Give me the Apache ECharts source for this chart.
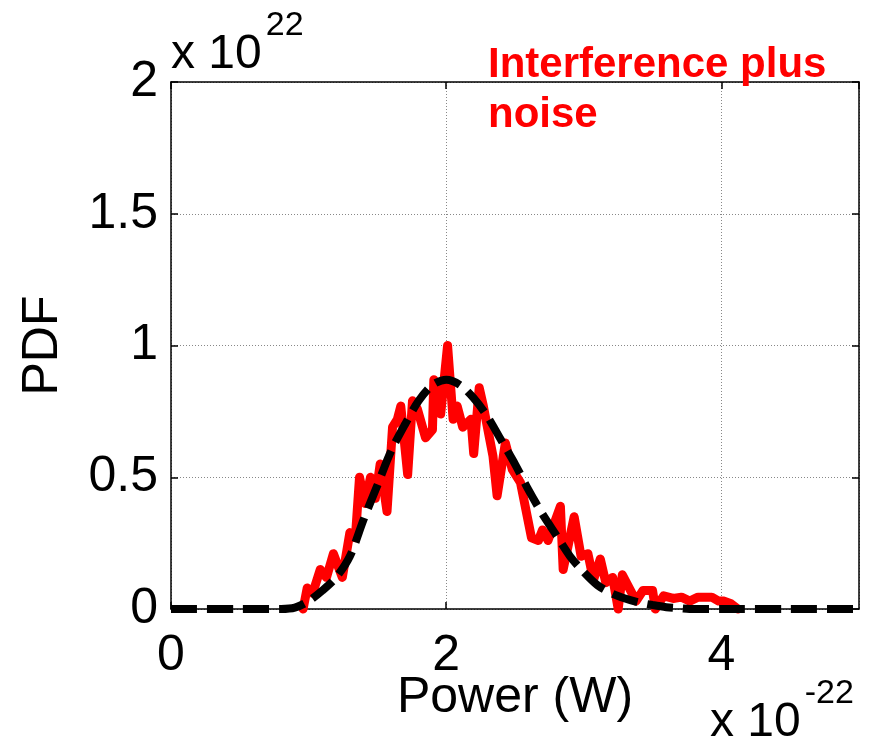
<!DOCTYPE html>
<html>
<head>
<meta charset="utf-8">
<script src="https://cdn.jsdelivr.net/npm/echarts@6/dist/echarts.min.js"></script>
<style>
html,body{margin:0;padding:0;background:#fff;}
#chart{width:875px;height:744px;}
</style>
</head>
<body>
<div id="chart"></div>
<script>
// Power (x 1e-22 W) and PDF (x 1e22) for the black dashed fitted curve
var fitPower = [0, 0.5, 0.8, 0.9, 1.0, 1.1, 1.2, 1.3, 1.4, 1.5, 1.6, 1.7, 1.8, 1.9, 2.0, 2.1, 2.2, 2.3, 2.4, 2.5, 2.6, 2.7, 2.8, 2.9, 3.0, 3.1, 3.2, 3.3, 3.4, 3.5, 3.6, 3.7, 3.8, 4.0, 4.5, 5.0];
var fitPdf   = [0, 0, 0, 0.005, 0.03, 0.07, 0.12, 0.2, 0.34, 0.47, 0.6, 0.7, 0.79, 0.85, 0.87, 0.85, 0.8, 0.73, 0.64, 0.55, 0.45, 0.36, 0.28, 0.2, 0.14, 0.09, 0.06, 0.04, 0.025, 0.015, 0.007, 0.003, 0, 0, 0, 0];

// Simulated interference plus noise (red)
var simPower = [0.96, 0.99, 1.03, 1.085, 1.13, 1.18, 1.245, 1.30, 1.34, 1.37, 1.41, 1.45, 1.485, 1.52, 1.57, 1.61, 1.645, 1.67, 1.72, 1.755, 1.79, 1.85, 1.90, 1.91, 1.96, 2.01, 2.05, 2.08, 2.12, 2.18, 2.20, 2.24, 2.27, 2.34, 2.37, 2.43, 2.48, 2.54, 2.62, 2.67, 2.70, 2.74, 2.83, 2.85, 2.93, 2.98, 3.03, 3.07, 3.12, 3.16, 3.21, 3.25, 3.28, 3.34, 3.38, 3.43, 3.50, 3.52, 3.58, 3.65, 3.71, 3.77, 3.83, 3.88, 3.93, 3.98, 4.02, 4.07, 4.12];
var simPdf   = [0, 0.08, 0.06, 0.15, 0.12, 0.21, 0.12, 0.29, 0.27, 0.50, 0.40, 0.50, 0.42, 0.55, 0.37, 0.69, 0.72, 0.77, 0.51, 0.79, 0.76, 0.65, 0.68, 0.87, 0.74, 1.0, 0.72, 0.77, 0.69, 0.72, 0.59, 0.84, 0.77, 0.58, 0.43, 0.63, 0.53, 0.48, 0.27, 0.26, 0.30, 0.26, 0.39, 0.15, 0.35, 0.20, 0.21, 0.11, 0.19, 0.10, 0.12, 0, 0.13, 0.07, 0.03, 0.07, 0.07, 0, 0.05, 0.04, 0.045, 0.03, 0.045, 0.045, 0.045, 0.03, 0.03, 0.02, 0];

var xTickLabels = ['0', '2', '4'];
var yTickLabels = ['0', '0.5', '1', '1.5', '2'];

function zip(a, b) { return a.map(function (v, i) { return [v, b[i]]; }); }

var FONT = '"Liberation Sans", Arial, sans-serif';
var chart = echarts.init(document.getElementById('chart'), null, {renderer: 'canvas'});

var hiddenAxisCommon = {
  type: 'value',
  axisLine: {show: true, onZero: false, lineStyle: {color: '#000', width: 1.5}},
  axisTick: {show: true, inside: true, length: 7, lineStyle: {color: '#000', width: 1.5}},
  axisLabel: {show: false},
  splitLine: {show: false}
};

chart.setOption({
  animation: false,
  backgroundColor: '#fff',
  textStyle: {fontFamily: FONT},
  grid: {left: 171, top: 82, right: 16, bottom: 135, containLabel: false, outerBoundsMode: 'none'},
  xAxis: [
    {
      type: 'value', min: 0, max: 5, interval: 2, position: 'bottom',
      name: 'Power (W)', nameLocation: 'middle', nameGap: 64, nameMoveOverlap: false,
      nameTextStyle: {fontSize: 50, color: '#000', fontFamily: FONT},
      axisLine: {show: true, onZero: false, lineStyle: {color: '#000', width: 1.5}},
      axisTick: {show: true, inside: true, length: 7, lineStyle: {color: '#000', width: 1.5}},
      axisLabel: {
        fontSize: 50, color: '#000', fontFamily: FONT, margin: 22, showMaxLabel: false,
        formatter: function (v) { var i = [0, 2, 4].indexOf(v); return i >= 0 ? xTickLabels[i] : ''; }
      },
      splitLine: {show: true, lineStyle: {color: '#888', type: [1, 2], width: 1}}
    },
    Object.assign({}, hiddenAxisCommon, {min: 0, max: 5, interval: 2, position: 'top'})
  ],
  yAxis: [
    {
      type: 'value', min: 0, max: 2, interval: 0.5, position: 'left',
      name: 'PDF', nameLocation: 'middle', nameGap: 103, nameRotate: 90, nameMoveOverlap: false,
      nameTextStyle: {fontSize: 50, color: '#000', fontFamily: FONT},
      axisLine: {show: true, onZero: false, lineStyle: {color: '#000', width: 1.5}},
      axisTick: {show: true, inside: true, length: 7, lineStyle: {color: '#000', width: 1.5}},
      axisLabel: {
        fontSize: 50, color: '#000', fontFamily: FONT, margin: 13,
        formatter: function (v) { return yTickLabels[Math.round(v / 0.5)]; }
      },
      splitLine: {show: true, lineStyle: {color: '#888', type: [1, 2], width: 1}}
    },
    Object.assign({}, hiddenAxisCommon, {min: 0, max: 2, interval: 0.5, position: 'right'})
  ],
  series: [
    {
      type: 'line', name: 'Interference plus noise', data: zip(simPower, simPdf),
      showSymbol: false, clip: false, z: 2,
      lineStyle: {color: '#ff0000', width: 9, join: 'round', cap: 'round'}
    },
    {
      type: 'line', name: 'Fit', data: zip(fitPower, fitPdf),
      showSymbol: false, smooth: 0.3, clip: false, z: 3,
      lineStyle: {color: '#000', width: 8, type: [26, 10], cap: 'butt'}
    }
  ],
  graphic: [
    {
      type: 'text', left: 488, top: 40, z: 10,
      style: {
        text: 'Interference plus\nnoise', fill: '#ff0000', font: 'bold 42px ' + FONT, lineHeight: 50
      }
    },
    {
      type: 'text', left: 171, top: 9, z: 10,
      style: {
        text: '{b|x 10}{s|22}', fontFamily: FONT,
        rich: {
          b: {fontSize: 48, fill: '#000', fontFamily: FONT, verticalAlign: 'bottom', lineHeight: 70},
          s: {fontSize: 34, fill: '#000', fontFamily: FONT, verticalAlign: 'top', lineHeight: 70, padding: [0, 0, 30, 4]}
        }
      }
    },
    {
      type: 'text', left: 710, top: 677, z: 10,
      style: {
        text: '{b|x 10}{s|-22}', fontFamily: FONT,
        rich: {
          b: {fontSize: 48, fill: '#000', fontFamily: FONT, verticalAlign: 'bottom', lineHeight: 70},
          s: {fontSize: 34, fill: '#000', fontFamily: FONT, verticalAlign: 'top', lineHeight: 70, padding: [0, 0, 30, 4]}
        }
      }
    }
  ]
});
</script>
</body>
</html>
